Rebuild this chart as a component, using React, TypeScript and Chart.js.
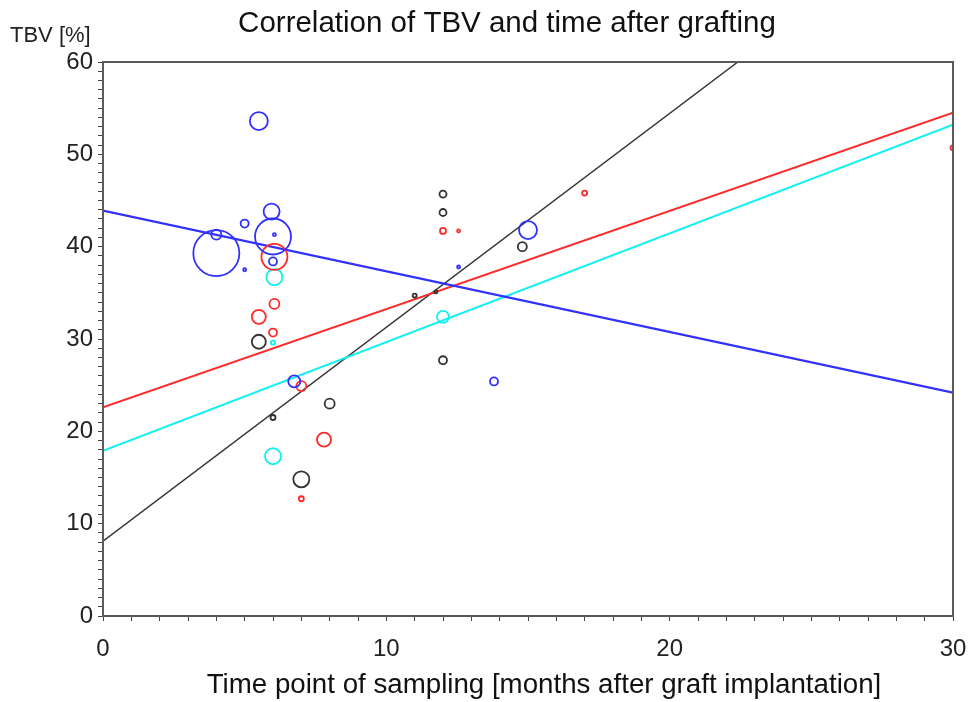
import React, { useEffect, useRef } from 'react';
import { Chart, registerables } from 'chart.js';

Chart.register(...registerables);

const titleText = 'Correlation of TBV and time after grafting';
const yAxisLabel = 'TBV [%]';
const xAxisLabel = 'Time point of sampling [months after graft implantation]';

const xMajorTicks = [0, 10, 20, 30];
const yMajorTicks = [0, 10, 20, 30, 40, 50, 60];

// Blue group
const blueX = [5.5, 4.0, 4.0, 5.0, 5.95, 6.0, 6.05, 6.0, 5.0, 6.75, 15.0, 13.8, 12.55];
const blueY = [53.6, 39.3, 41.3, 42.5, 43.8, 41.1, 41.3, 38.4, 37.5, 25.4, 41.8, 25.4, 37.8];
const blueR = [9, 23, 5, 4, 8, 18, 1.5, 4, 1.5, 6, 9, 4, 1.5];

// Red group
const redX = [6.05, 6.05, 5.5, 6.0, 7.0, 7.8, 7.0, 12.0, 12.55, 17.0, 30.0];
const redY = [38.9, 33.8, 32.4, 30.7, 24.9, 19.1, 12.7, 41.7, 41.7, 45.8, 50.7];
const redR = [13, 5, 7, 4, 5, 7, 2.5, 3, 1.5, 2.5, 2.5];

// Cyan group
const cyanX = [6.05, 6.0, 6.0, 12.0];
const cyanY = [36.7, 29.6, 17.3, 32.4];
const cyanR = [8, 2, 8, 6];

// Black group
const blackX = [5.5, 6.0, 7.0, 8.0, 12.0, 12.0, 12.0, 11.0, 11.75, 14.8];
const blackY = [29.7, 21.5, 14.8, 23.0, 45.7, 43.7, 27.7, 34.7, 35.1, 40.0];
const blackR = [7, 2.5, 8, 5, 3.5, 3.5, 4, 2, 1.5, 4.5];

// Regression lines (endpoints)
const fitX = [0, 30];
const blueFitY = [43.9, 24.2];
const redFitY = [22.6, 54.5];
const cyanFitY = [17.9, 53.2];
const blackFitY = [8.1, 77.6];

const COLORS = {
  blue: '#3030ff',
  red: '#ff2a2a',
  cyan: '#10f0f0',
  black: '#333333',
};

const FONT = '"Liberation Sans", Arial, Helvetica, sans-serif';

function bubbles(xs: number[], ys: number[], rs: number[]) {
  return xs.map((x, i) => ({ x, y: ys[i], r: rs[i] }));
}

function fitLine(ys: number[]) {
  return fitX.map((x, i) => ({ x, y: ys[i] }));
}

const framePlugin = {
  id: 'frameAndLabels',
  afterDraw(chart: any) {
    const { ctx, chartArea } = chart;
    ctx.save();
    ctx.strokeStyle = '#5a5a5a';
    ctx.lineWidth = 2;
    ctx.strokeRect(chartArea.left, chartArea.top, chartArea.right - chartArea.left, chartArea.bottom - chartArea.top);
    ctx.fillStyle = '#111';
    ctx.textBaseline = 'alphabetic';
    ctx.textAlign = 'center';
    ctx.font = `29.5px ${FONT}`;
    ctx.fillText(titleText, 507, 32);
    ctx.font = `27.7px ${FONT}`;
    ctx.fillText(xAxisLabel, 544, 693);
    ctx.textAlign = 'left';
    ctx.font = `22px ${FONT}`;
    ctx.fillStyle = '#222';
    ctx.fillText(yAxisLabel, 10, 42);
    ctx.restore();
  },
};

export default function App() {
  const ref = useRef<HTMLCanvasElement | null>(null);

  useEffect(() => {
    if (!ref.current) return;
    const bubbleDs = (data: any[], color: string) => ({
      type: 'bubble' as const,
      data,
      borderColor: color,
      backgroundColor: 'rgba(0,0,0,0)',
      borderWidth: 1.8,
      order: 1,
    });
    const lineDs = (data: any[], color: string, width: number) => ({
      type: 'line' as const,
      data,
      borderColor: color,
      backgroundColor: color,
      borderWidth: width,
      pointRadius: 0,
      fill: false,
      tension: 0,
      order: 2,
    });

    const chart = new Chart(ref.current, {
      type: 'bubble',
      data: {
        datasets: [
          bubbleDs(bubbles(blueX, blueY, blueR), COLORS.blue),
          bubbleDs(bubbles(redX, redY, redR), COLORS.red),
          bubbleDs(bubbles(cyanX, cyanY, cyanR), COLORS.cyan),
          bubbleDs(bubbles(blackX, blackY, blackR), COLORS.black),
          lineDs(fitLine(blueFitY), COLORS.blue, 2.2),
          lineDs(fitLine(redFitY), COLORS.red, 2),
          lineDs(fitLine(cyanFitY), COLORS.cyan, 2),
          lineDs(fitLine(blackFitY), COLORS.black, 1.4),
        ] as any,
      },
      options: {
        animation: false,
        responsive: true,
        maintainAspectRatio: false,
        events: [],
        layout: { autoPadding: false, padding: { top: 62, right: 16, left: 0, bottom: 0 } },
        plugins: {
          legend: { display: false },
          tooltip: { enabled: false },
          title: { display: false },
        },
        scales: {
          x: {
            type: 'linear',
            min: 0,
            max: 30,
            afterFit: (s: any) => {
              s.height = 86;
              s.paddingLeft = 0;
              s.paddingRight = 0;
            },
            ticks: {
              stepSize: 1,
              autoSkip: false,
              maxRotation: 0,
              padding: 14,
              color: '#222',
              font: { family: FONT, size: 24 },
              callback: (v: any) => (xMajorTicks.includes(Number(v)) ? String(v) : ''),
            },
            grid: {
              drawOnChartArea: false,
              drawTicks: true,
              tickLength: 5,
              color: '#444',
              lineWidth: 1,
            },
            border: { display: true, color: '#5a5a5a', width: 2 },
            title: { display: false },
          },
          y: {
            type: 'linear',
            min: 0,
            max: 60,
            afterFit: (s: any) => {
              s.width = 103;
              s.paddingTop = 0;
              s.paddingBottom = 0;
            },
            ticks: {
              stepSize: 1,
              autoSkip: false,
              padding: 5,
              color: '#222',
              font: { family: FONT, size: 24 },
              callback: (v: any) => (yMajorTicks.includes(Number(v)) ? String(v) : ''),
            },
            grid: {
              drawOnChartArea: false,
              drawTicks: true,
              tickLength: 5,
              color: '#444',
              lineWidth: 1,
            },
            border: { display: true, color: '#5a5a5a', width: 2 },
          },
        },
      },
      plugins: [framePlugin],
    } as any);
    return () => chart.destroy();
  }, []);

  return (
    <div style={{ position: 'absolute', left: 0, top: 0, width: 969, height: 702, background: '#fff' }}>
      <canvas ref={ref} />
    </div>
  );
}
